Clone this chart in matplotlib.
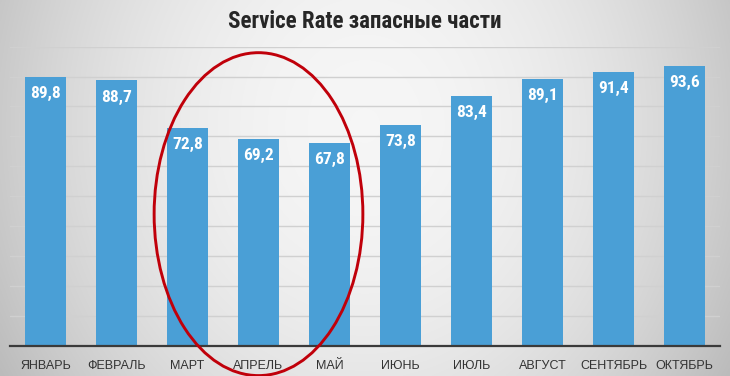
import numpy as np
import matplotlib
matplotlib.use("Agg")
import matplotlib.pyplot as plt
from matplotlib.patches import Ellipse
from matplotlib import font_manager as fm

months = ["ЯНВАРЬ", "ФЕВРАЛЬ", "МАРТ", "АПРЕЛЬ", "МАЙ", "ИЮНЬ", "ИЮЛЬ",
          "АВГУСТ", "СЕНТЯБРЬ", "ОКТЯБРЬ"]
values = [89.8, 88.7, 72.8, 69.2, 67.8, 73.8, 83.4, 89.1, 91.4, 93.6]
value_labels = ["89,8", "88,7", "72,8", "69,2", "67,8", "73,8", "83,4",
                "89,1", "91,4", "93,6"]
highlight = ["МАРТ", "АПРЕЛЬ", "МАЙ"]
title = "Service Rate запасные части"

avail = {f.name for f in fm.fontManager.ttflist}
fam = "DejaVu Sans"
for c in ["Liberation Sans Narrow", "Roboto Condensed", "Arial Narrow", "Liberation Sans"]:
    if c in avail:
        fam = c
        break
tick_fam = "Liberation Sans" if "Liberation Sans" in avail else fam
plt.rcParams["font.family"] = [fam, "DejaVu Sans"]

W, H = 730, 376
fig = plt.figure(figsize=(W / 100, H / 100), dpi=100)

# background gradient
bg = fig.add_axes([0, 0, 1, 1], zorder=-10)
xx = np.linspace(-1, 1, 400)
yy = np.linspace(-1, 1, 200)
X, Y = np.meshgrid(xx, yy)
r = np.sqrt((X * 1.0) ** 2 + (Y * 0.45 + 0.15) ** 2)
val = 0.965 - 0.17 * np.clip(r, 0, 1.3) ** 2
bg.imshow(np.dstack([val, val, val]), aspect="auto", extent=[0, 1, 0, 1],
          interpolation="bilinear")
bg.axis("off")

left = 10 / W
right = 720 / W
bottom = (H - 345.7) / H
top = (H - 46.7) / H
ax = fig.add_axes([left, bottom, right - left, top - bottom])
ax.patch.set_alpha(0)

x = np.arange(len(months))
bars = ax.bar(x, values, width=0.59, color="#4a9fd6", zorder=3)
ax.set_xlim(-0.5, len(months) - 0.5)
ax.set_ylim(0, 100)
ax.set_yticks(np.arange(0, 101, 10))
ax.yaxis.grid(True, color="#d0d0d0", linewidth=1.0, zorder=0)
ax.set_axisbelow(True)
ax.tick_params(axis="y", left=False, labelleft=False)
ax.tick_params(axis="x", bottom=False, pad=7, labelcolor="#333333")
ax.set_xticks(x)
ax.set_xticklabels(months, family=[tick_fam, "DejaVu Sans"], fontsize=9)
for s in ["top", "right", "left"]:
    ax.spines[s].set_visible(False)
ax.spines["bottom"].set_color("#3a3a3a")
ax.spines["bottom"].set_linewidth(1.6)
ax.spines["bottom"].set_zorder(4)

for xi, v, lab in zip(x, values, value_labels):
    ax.annotate(lab, (xi, v), xytext=(0, -6.5), textcoords="offset points",
                ha="center", va="top", color="white", fontsize=12.5,
                fontweight="bold", zorder=5)

# highlight ellipse around the spring months
idx = [months.index(m) for m in highlight]
cx = np.mean(idx)
ell = Ellipse((cx, 44), width=len(idx) * 0.98, height=108, fill=False,
              edgecolor="#c0000a", linewidth=2.1, zorder=6, clip_on=False)
ax.add_patch(ell)

fig.text(0.5, (H - 22) / H, title, ha="center", va="center", fontsize=16.5,
         fontweight="bold", color="#262626")

fig.savefig("out.png", dpi=100)
